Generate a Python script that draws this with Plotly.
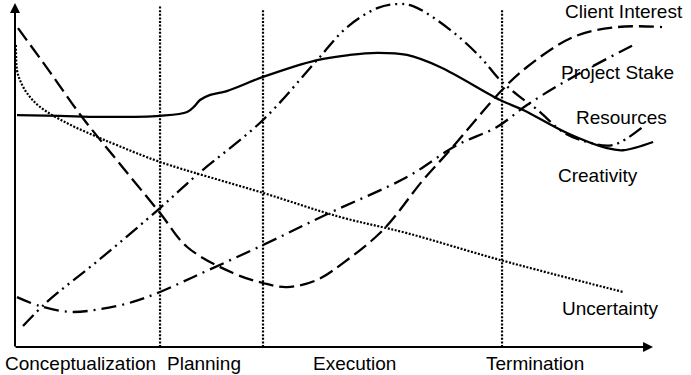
import plotly.graph_objects as go

# ---------------- data (x: project time 0-100, y: level 0-100) ----------------
client_x = [0.47, 5.47, 10.47, 16.4, 22.66, 26.9, 34.06, 38.75, 42.5, 47.2, 51.25, 57.5, 63.75, 68.0, 76.1, 80.0, 87.2, 94.1, 101.1]
client_y = [92.7, 79.9, 66.86, 53.2, 38.95, 29.07, 21.5, 18.6, 17.4, 19.5, 24.4, 34.0, 48.5, 57.3, 74.7, 81.4, 90.1, 93.0, 93.0]

stake_x = [0.31, 3.9, 8.6, 13.3, 18.4, 22.66, 27.8, 38.75, 49.2, 61.25, 69.06, 75.3, 80.0, 87.2, 97.3]
stake_y = [14.5, 11.9, 10.2, 11.0, 13.1, 16.0, 20.3, 29.65, 39.0, 49.4, 58.7, 63.95, 70.35, 78.5, 88.4]

resources_x = [1.25, 5.0, 13.3, 22.66, 28.4, 38.75, 47.2, 51.9, 56.6, 59.7, 62.2, 68.0, 72.7, 75.8, 78.9, 81.6, 85.6, 89.4, 93.4, 98.1]
resources_y = [6.1, 13.1, 25.6, 40.4, 50.0, 66.0, 83.4, 93.0, 98.5, 99.7, 99.1, 92.2, 84.3, 77.6, 72.7, 69.0, 62.5, 59.6, 58.7, 64.0]

creativity_x = [0.31, 7.03, 13.3, 22.66, 26.9, 28.1, 28.9, 30.5, 33.1, 38.75, 47.2, 52.3, 56.6, 61.25, 66.4, 75.8, 79.4, 86.25, 92.5, 95.0, 99.7]
creativity_y = [67.4, 67.2, 66.9, 67.2, 68.3, 70.1, 71.8, 73.3, 74.4, 78.5, 83.4, 84.9, 85.5, 84.9, 81.4, 71.8, 68.9, 62.2, 57.8, 57.2, 59.6]

uncert_x = [0.15, 0.31, 0.78, 1.875, 3.9, 8.1, 12.2, 15.9, 22.66, 38.75, 50.8, 61.25, 75.8, 95.0]
uncert_y = [87.8, 80.5, 77.6, 73.8, 69.8, 65.1, 61.6, 58.7, 53.8, 44.8, 37.8, 33.1, 25.3, 16.0]

phase_names = ["Conceptualization", "Planning", "Execution", "Termination"]
phase_bounds = [22.66, 38.75, 76.1]
phase_tops = [99.1, 98.3, 98.3]

series_labels = ["Client Interest", "Project Stake", "Resources", "Creativity", "Uncertainty"]

FONT = dict(family="Arial, Liberation Sans, sans-serif", size=19, color="black")

fig = go.Figure()

def add(x, y, dash, width=2.3):
    fig.add_trace(go.Scatter(x=x, y=y, mode="lines",
                             line=dict(color="black", width=width, dash=dash,
                                       shape="spline", smoothing=1),
                             hoverinfo="skip", showlegend=False))

add(client_x, client_y, "15px,6px")
add(stake_x, stake_y, "15px,6px,2px,6px")
add(resources_x, resources_y, "15px,5px,2px,5px,2px,5px")
add(creativity_x, creativity_y, "solid")
add(uncert_x, uncert_y, "2px,1.6px", width=2.2)

shapes = []
for xb, top in zip(phase_bounds, phase_tops):
    shapes.append(dict(type="line", xref="x", yref="y", x0=xb, x1=xb, y0=0, y1=top,
                       line=dict(color="black", width=2.2, dash="2px,1.6px")))

annotations = []
# axes with arrow heads
annotations.append(dict(x=0, y=100, ax=0, ay=-0.3, xref="x", yref="y", axref="x", ayref="y",
                        text="", showarrow=True, arrowhead=2, arrowsize=1, arrowwidth=2,
                        arrowcolor="black", standoff=0))
annotations.append(dict(x=99.7, y=0, ax=-0.15, ay=0, xref="x", yref="y", axref="x", ayref="y",
                        text="", showarrow=True, arrowhead=2, arrowsize=1, arrowwidth=2,
                        arrowcolor="black", standoff=0))

# phase labels
phase_label_x = [10.3, 29.5, 53.1, 81.25]
for name, xl in zip(phase_names, phase_label_x):
    annotations.append(dict(x=xl, y=-4.94, xref="x", yref="y", text=name, showarrow=False,
                            font=FONT, xanchor="center", yanchor="middle"))

# series labels
label_pos = [(95.1, 97.6), (94.2, 79.9), (94.8, 66.8), (91.1, 50.0), (93.0, 11.2)]
for name, (xl, yl) in zip(series_labels, label_pos):
    annotations.append(dict(x=xl, y=yl, xref="x", yref="y", text=name, showarrow=False,
                            font=FONT, xanchor="center", yanchor="middle"))

fig.update_layout(
    width=691, height=375,
    margin=dict(l=0, r=0, t=0, b=0),
    paper_bgcolor="white", plot_bgcolor="white",
    xaxis=dict(range=[-2.344, 105.625], visible=False, fixedrange=True),
    yaxis=dict(range=[-8.14, 100.872], visible=False, fixedrange=True),
    shapes=shapes, annotations=annotations, showlegend=False,
)

fig.write_html("out.html", config={"displayModeBar": False},
               post_script="document.body.style.margin='0px';document.body.style.overflow='hidden';")
